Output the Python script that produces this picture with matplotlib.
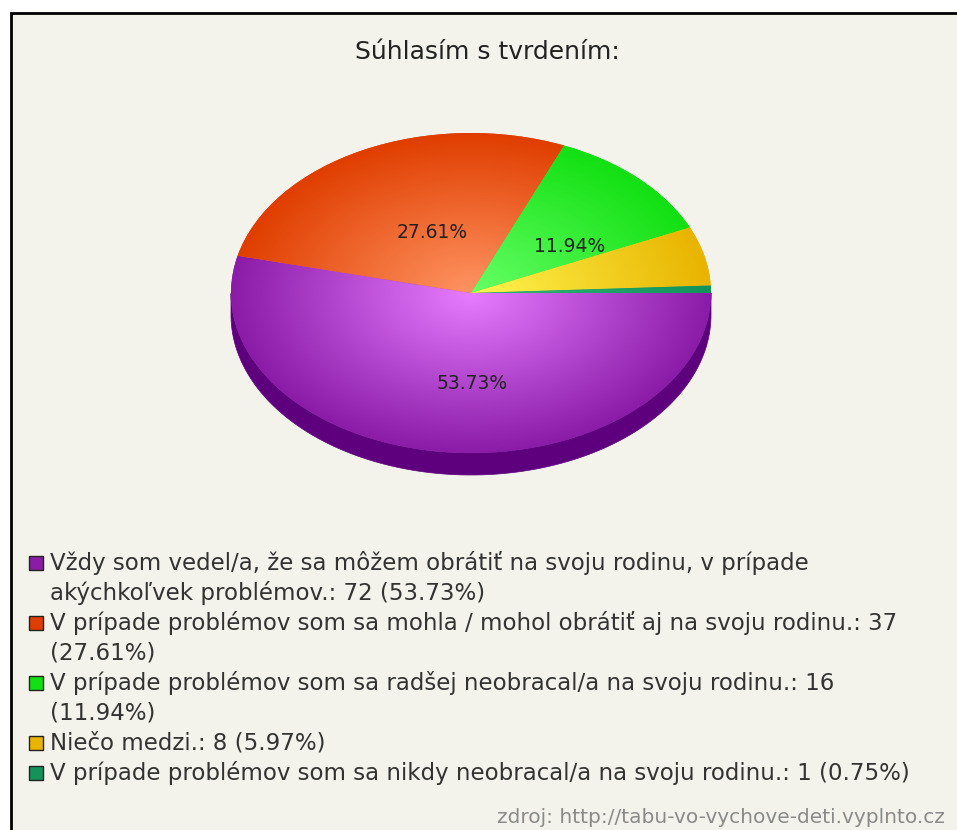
import textwrap
import numpy as np
import matplotlib.pyplot as plt
from matplotlib.colors import LinearSegmentedColormap
from matplotlib.patches import Rectangle, Polygon
from matplotlib.transforms import ScaledTranslation

# Answers and counts
answers = [
    "Vždy som vedel/a, že sa môžem obrátiť na svoju rodinu, v prípade akýchkoľvek problémov.",
    "V prípade problémov som sa mohla / mohol obrátiť aj na svoju rodinu.",
    "V prípade problémov som sa radšej neobracal/a na svoju rodinu.",
    "Niečo medzi.",
    "V prípade problémov som sa nikdy neobracal/a na svoju rodinu.",
]
counts = np.array([72, 37, 16, 8, 1])

# Slice colours (rim, centre highlight)
rim_colors = ["#8a1ca8", "#e03e00", "#12e012", "#e8b400", "#13935a"]
light_colors = ["#e77cff", "#ff9462", "#66ff66", "#fff650", "#2fb877"]
wall_color = "#5e007e"

title = "Súhlasím s tvrdením:"
source = "zdroj: http://tabu-vo-vychove-deti.vyplnto.cz"

bg = "#f3f3eb"
W, H = 957, 830

fig = plt.figure(figsize=(W / 100, H / 100), dpi=100)
fig.patch.set_facecolor("white")

# panel with black frame (top/left visible, rest cut off)
fig.patches.append(Rectangle((11 / W, -0.1), 1.0, (H - 13) / H + 0.1,
                             transform=fig.transFigure, facecolor=bg,
                             edgecolor="black", lw=2, zorder=-5))

fig.text(487 / W, 1 - 52 / H, title, ha="center", va="center",
         fontsize=18, color="#222222")

# ------------------ PIE ------------------
cx, cy, rx, ry = 471, 293, 240, 160
depth = 22 / ry
ax = fig.add_axes([(cx - 1.1 * rx) / W, (H - (cy + 1.3 * ry)) / H,
                   2.2 * rx / W, 2.4 * ry / H])
ax.axis("off")


def fmt(p):
    return f"{p:.2f}%" if p > 10 else ""


wedges, texts, autotexts = ax.pie(counts, colors=rim_colors, startangle=0,
                                  counterclock=False, autopct=fmt,
                                  pctdistance=0.5,
                                  textprops=dict(fontsize=13.5, color="#222222"))

# side wall for the front half
for w in wedges:
    t = np.radians(np.linspace(w.theta1, w.theta2, 400))
    keep = np.sin(t) <= 0
    if keep.sum() < 2:
        continue
    xs, ys = np.cos(t[keep]), np.sin(t[keep])
    pts = np.concatenate([np.column_stack([xs, ys]),
                          np.column_stack([xs[::-1], ys[::-1] - depth])])
    ax.add_patch(Polygon(pts, closed=True, facecolor=wall_color,
                         edgecolor=wall_color, lw=0.5, zorder=0.5))

# radial shading on top face
g = np.linspace(-1, 1, 300)
gx, gy = np.meshgrid(g, g)
r = np.clip(np.sqrt(gx ** 2 + gy ** 2), 0, 1)
for w, c0, c1 in zip(wedges, light_colors, rim_colors):
    cmap = LinearSegmentedColormap.from_list("s", [c0, c1])
    im = ax.imshow(r, cmap=cmap, vmin=0, vmax=1, extent=[-1, 1, -1, 1],
                   origin="lower", aspect="auto", interpolation="bilinear",
                   zorder=1.5)
    im.set_clip_path(w)

# labels sit a bit lower/right than matplotlib's default spot
shift = ScaledTranslation(15 / 100, -11 / 100, fig.dpi_scale_trans)
for t in autotexts:
    t.set_zorder(3)
    t.set_transform(t.get_transform() + shift)

ax.set_xlim(-1.1, 1.1)
ax.set_ylim(-1.3, 1.1)
ax.set_aspect("auto")

# ------------------ LEGEND ------------------
total = counts.sum()
y = 563
for name, n, col in zip(answers, counts, rim_colors):
    label = f"{name}: {n} ({n / total * 100:.2f}%)"
    lines = textwrap.wrap(label, width=73)
    fig.patches.append(Rectangle((29 / W, 1 - (y + 7) / H), 14 / W, 14 / H,
                                 transform=fig.transFigure, facecolor=col,
                                 edgecolor="#222222", lw=1, zorder=2))
    for line in lines:
        fig.text(50 / W, 1 - y / H, line, ha="left", va="center",
                 fontsize=16.5, color="#333333")
        y += 30

fig.text(945 / W, 1 - 817 / H, source, ha="right", va="center",
         fontsize=14.5, color="#8a8a8a")

plt.savefig("out.png", dpi=100, facecolor=fig.get_facecolor())
